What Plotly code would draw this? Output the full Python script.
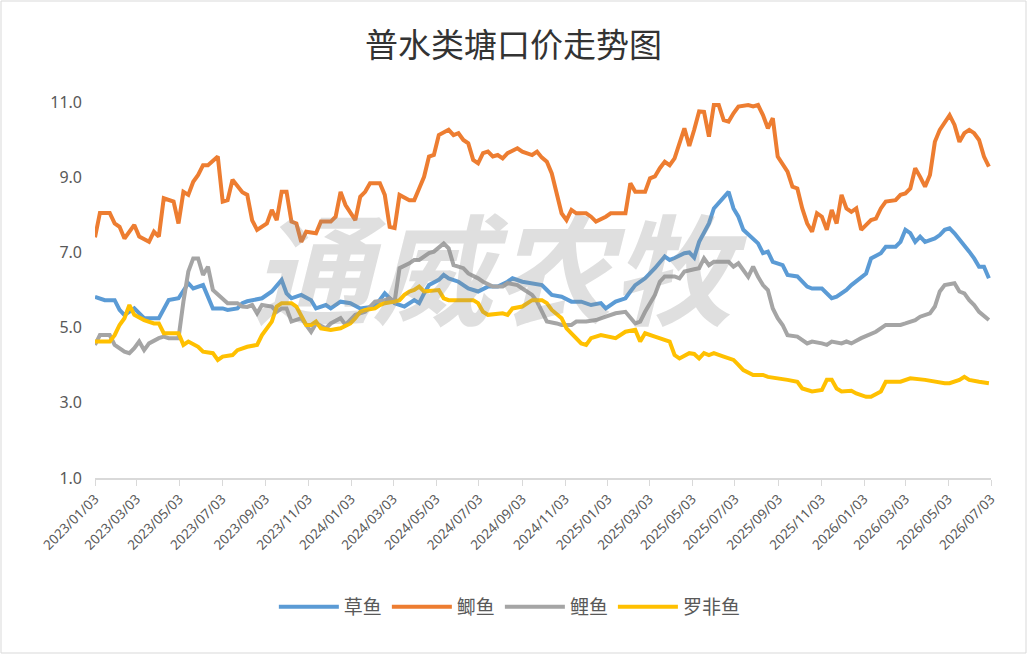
import numpy as np
import pandas as pd
import plotly.graph_objects as go

base = pd.Timestamp("2023-01-03")

# 草鱼
grass_wk = [0, 1, 2, 4, 5, 6, 8, 10, 13, 15, 17, 19, 20, 22, 24, 26, 27, 29, 30, 31, 34, 36, 38, 39, 40, 42, 44, 45, 47, 48,
            50, 52, 54, 57, 59, 61, 63, 65, 66, 67, 68, 70, 71, 72, 74, 76, 78, 80, 82, 84, 85, 87, 89, 91, 92, 93, 95, 97, 99,
            101, 103, 104, 106, 108, 109, 110, 112, 114, 116, 117, 118, 120, 121, 122, 123, 124, 125, 126, 128, 129, 130, 131,
            132, 134, 135, 136, 137, 138, 140, 141, 143, 145, 146, 148, 150, 151, 152, 153, 154, 156, 157, 158, 160, 161, 163,
            164, 165, 166, 167, 168, 169, 171, 172, 173, 174, 175, 177, 178, 179, 180, 181, 182]
grass = [5.82, 5.78, 5.73, 5.73, 5.47, 5.33, 5.51, 5.25, 5.25, 5.73, 5.78, 6.18, 6.04, 6.13, 5.51, 5.51, 5.47, 5.51, 5.65, 5.70,
         5.78, 5.96, 6.27, 5.91, 5.78, 5.87, 5.73, 5.51, 5.60, 5.51, 5.69, 5.65, 5.51, 5.56, 5.91, 5.65, 5.56, 5.73, 5.65, 5.91,
         6.13, 6.27, 6.40, 6.31, 6.22, 6.04, 5.96, 6.09, 6.09, 6.22, 6.31, 6.22, 6.18, 6.13, 6.00, 5.87, 5.82, 5.69, 5.69, 5.60,
         5.65, 5.51, 5.69, 5.78, 5.96, 6.13, 6.31, 6.58, 6.89, 6.80, 6.85, 6.98, 7.00, 6.86, 7.28, 7.55, 7.77, 8.17, 8.48, 8.61,
         8.17, 7.95, 7.60, 7.37, 7.24, 6.98, 7.02, 6.75, 6.66, 6.40, 6.36, 6.09, 6.04, 6.04, 5.78, 5.82, 5.90, 6.00, 6.13, 6.35,
         6.44, 6.84, 6.98, 7.15, 7.15, 7.28, 7.60, 7.51, 7.28, 7.42, 7.28, 7.37, 7.46, 7.60, 7.64, 7.51, 7.20, 7.02, 6.84, 6.62,
         6.62, 6.31]

# 鲫鱼
crucian_wk = [0, 1, 3, 4, 5, 6, 8, 9, 11, 12, 13, 14, 16, 17, 18, 19, 20, 21, 22, 23, 25, 26, 27, 28, 30, 31, 32, 33, 35, 36,
              37, 38, 39, 40, 41, 42, 43, 45, 46, 48, 49, 50, 51, 52, 53, 54, 55, 56, 58, 59, 60, 61, 62, 64, 65, 66, 67, 68,
              69, 70, 72, 73, 74, 75, 76, 77, 78, 79, 80, 81, 82, 83, 84, 86, 87, 89, 90, 91, 92, 93, 94, 95, 96, 97, 98, 100,
              101, 102, 104, 105, 108, 109, 110, 112, 113, 114, 115, 116, 117, 118, 120, 121, 122, 123, 124, 125, 126, 127, 128,
              129, 130, 131, 133, 134, 135, 136, 137, 138, 139, 140, 141, 142, 143, 144, 145, 146, 147, 148, 149, 150, 151, 152,
              153, 154, 155, 156, 157, 158, 159, 160, 161, 163, 164, 165, 166, 167, 168, 169, 170, 171, 172, 173, 174, 175, 176,
              177, 178, 179, 180, 181, 182]
crucian = [7.40, 8.05, 8.05, 7.77, 7.68, 7.37, 7.73, 7.42, 7.28, 7.55, 7.42, 8.44, 8.35, 7.77, 8.61, 8.53, 8.88, 9.06, 9.32, 9.32,
           9.55, 8.35, 8.39, 8.93, 8.60, 8.53, 7.85, 7.60, 7.77, 8.13, 7.86, 8.61, 8.61, 7.82, 7.77, 7.28, 7.55, 7.51, 7.82, 7.82,
           7.95, 8.61, 8.26, 8.04, 7.86, 8.48, 8.61, 8.84, 8.84, 8.53, 7.68, 7.65, 8.53, 8.39, 8.39, 8.70, 9.01, 9.55, 9.59, 10.12,
           10.26, 10.12, 10.17, 9.99, 9.90, 9.46, 9.37, 9.64, 9.68, 9.55, 9.59, 9.50, 9.64, 9.77, 9.68, 9.59, 9.68, 9.52, 9.41,
           9.10, 8.53, 8.04, 7.86, 8.13, 8.04, 8.04, 7.95, 7.82, 7.95, 8.04, 8.04, 8.84, 8.61, 8.61, 8.97, 9.02, 9.24, 9.41, 9.32,
           9.50, 10.30, 9.83, 10.26, 10.75, 10.74, 10.08, 10.92, 10.92, 10.52, 10.48, 10.70, 10.88, 10.92, 10.88, 10.92, 10.65,
           10.30, 10.57, 9.55, 9.37, 9.15, 8.75, 8.70, 8.17, 7.77, 7.55, 8.04, 7.95, 7.60, 8.13, 7.77, 8.53, 8.17, 8.08, 8.17,
           7.60, 7.73, 7.86, 7.90, 8.17, 8.35, 8.39, 8.53, 8.57, 8.70, 9.24, 9.01, 8.75, 9.06, 9.94, 10.26, 10.48, 10.65, 10.39,
           9.94, 10.17, 10.26, 10.17, 9.99, 9.55, 9.28]

# 鲤鱼
carp_wk = [0, 1, 3, 4, 6, 7, 8, 9, 10, 11, 13, 14, 15, 17, 18, 19, 20, 21, 22, 23, 24, 26, 27, 29, 30, 31, 32, 33, 34, 36, 37,
           38, 39, 40, 42, 43, 44, 45, 47, 48, 50, 51, 53, 55, 57, 59, 60, 61, 62, 64, 65, 66, 68, 69, 71, 72, 73, 75, 76, 78,
           79, 81, 83, 84, 86, 87, 88, 89, 90, 91, 92, 94, 95, 97, 98, 100, 102, 104, 106, 108, 110, 111, 112, 114, 115, 116,
           118, 119, 120, 122, 123, 124, 125, 126, 128, 129, 130, 131, 133, 134, 135, 136, 137, 138, 139, 140, 141, 143, 145,
           146, 148, 149, 150, 152, 153, 154, 156, 158, 159, 161, 164, 165, 167, 168, 170, 171, 172, 173, 175, 176, 177, 178,
           179, 180, 181, 182]
carp = [4.54, 4.80, 4.80, 4.54, 4.36, 4.32, 4.45, 4.63, 4.40, 4.58, 4.72, 4.76, 4.72, 4.72, 5.69, 6.49, 6.84, 6.84, 6.40, 6.62,
        6.00, 5.78, 5.65, 5.65, 5.56, 5.55, 5.60, 5.38, 5.60, 5.56, 5.42, 5.51, 5.51, 5.16, 5.25, 5.07, 4.89, 5.11, 4.98, 5.11,
        5.25, 5.07, 5.34, 5.42, 5.69, 5.73, 5.78, 5.69, 6.58, 6.71, 6.80, 6.80, 6.98, 7.02, 7.24, 7.11, 6.66, 6.58, 6.44, 6.31,
        6.22, 6.09, 6.09, 6.18, 6.13, 6.04, 5.96, 5.87, 5.69, 5.42, 5.16, 5.11, 5.07, 5.07, 5.16, 5.16, 5.20, 5.29, 5.38, 5.42,
        5.11, 5.16, 5.42, 5.87, 6.22, 6.36, 6.36, 6.31, 6.49, 6.55, 6.58, 6.84, 6.66, 6.75, 6.75, 6.75, 6.62, 6.71, 6.35, 6.62,
        6.35, 6.13, 6.00, 5.51, 5.25, 5.07, 4.80, 4.76, 4.58, 4.63, 4.58, 4.54, 4.63, 4.58, 4.63, 4.58, 4.72, 4.85, 4.89, 5.07,
        5.07, 5.11, 5.20, 5.29, 5.38, 5.56, 5.96, 6.13, 6.18, 5.96, 5.91, 5.73, 5.60, 5.42, 5.30, 5.20]

# 罗非鱼
tilapia_wk = [0, 3, 4, 5, 6, 7, 8, 10, 12, 13, 14, 17, 18, 19, 21, 22, 24, 25, 26, 28, 29, 31, 33, 34, 36, 37, 38, 40, 41, 42,
              43, 44, 45, 46, 48, 50, 52, 53, 54, 55, 57, 58, 59, 61, 62, 63, 64, 65, 66, 67, 69, 70, 71, 72, 74, 77, 78, 79,
              80, 82, 83, 84, 85, 87, 88, 89, 91, 92, 93, 95, 96, 98, 99, 100, 101, 103, 105, 106, 108, 110, 111, 112, 114, 116,
              117, 118, 119, 121, 122, 123, 124, 125, 126, 128, 130, 131, 132, 134, 136, 137, 140, 141, 143, 144, 146, 148, 149,
              150, 151, 152, 154, 155, 157, 158, 160, 161, 164, 166, 169, 171, 173, 174, 176, 177, 178, 180, 182]
tilapia = [4.63, 4.63, 4.80, 5.07, 5.25, 5.60, 5.34, 5.20, 5.11, 5.11, 4.85, 4.85, 4.54, 4.63, 4.49, 4.36, 4.32, 4.14, 4.23,
           4.27, 4.40, 4.49, 4.54, 4.80, 5.16, 5.56, 5.65, 5.65, 5.56, 5.34, 5.07, 5.07, 5.16, 4.98, 4.94, 4.98, 5.11, 5.25, 5.42,
           5.47, 5.51, 5.60, 5.65, 5.69, 5.73, 5.87, 5.96, 6.00, 6.09, 5.96, 6.00, 6.00, 5.78, 5.73, 5.73, 5.73, 5.65, 5.42, 5.34,
           5.38, 5.38, 5.34, 5.51, 5.56, 5.65, 5.73, 5.73, 5.65, 5.47, 5.25, 4.98, 4.72, 4.58, 4.54, 4.72, 4.80, 4.76, 4.72, 4.89,
           4.94, 4.63, 4.85, 4.76, 4.67, 4.63, 4.27, 4.18, 4.32, 4.30, 4.18, 4.32, 4.27, 4.32, 4.23, 4.14, 4.01, 3.87, 3.74, 3.74,
           3.69, 3.65, 3.61, 3.56, 3.38, 3.30, 3.34, 3.61, 3.61, 3.38, 3.30, 3.32, 3.25, 3.16, 3.16, 3.30, 3.56, 3.56, 3.65, 3.61,
           3.56, 3.52, 3.52, 3.61, 3.69, 3.61, 3.56, 3.52]

tick_dates = ["2023-01-03", "2023-03-03", "2023-05-03", "2023-07-03", "2023-09-03", "2023-11-03",
              "2024-01-03", "2024-03-03", "2024-05-03", "2024-07-03", "2024-09-03", "2024-11-03",
              "2025-01-03", "2025-03-03", "2025-05-03", "2025-07-03", "2025-09-03", "2025-11-03",
              "2026-01-03", "2026-03-03", "2026-05-03", "2026-07-03"]
tick_text = [d.replace("-", "/") for d in tick_dates]


def to_dates(wk):
    return base + pd.to_timedelta(np.array(wk) * 7, unit="D")


series = [
    ("草鱼", grass_wk, grass, "#5B9BD5"),
    ("鲫鱼", crucian_wk, crucian, "#ED7D31"),
    ("鲤鱼", carp_wk, carp, "#A5A5A5"),
    ("罗非鱼", tilapia_wk, tilapia, "#FFC000"),
]

fig = go.Figure()
for name, wk, vals, col in series:
    fig.add_trace(go.Scatter(x=to_dates(wk), y=vals, name=name, mode="lines",
                             line=dict(color=col, width=4)))

font_cjk = "Noto Sans CJK SC"

fig.update_layout(
    width=1027, height=654,
    margin=dict(l=95, r=36, t=102, b=176),
    paper_bgcolor="white", plot_bgcolor="white",
    title=dict(text="普水类塘口价走势图", x=0.5, xref="container", xanchor="center",
               y=1 - 45 / 654, yref="container", yanchor="middle",
               font=dict(family=font_cjk, size=33, color="#333333")),
    legend=dict(orientation="h", x=0.463, xanchor="center", y=-0.343, yanchor="middle",
                font=dict(family=font_cjk, size=19, color="#595959"), itemwidth=60,
                traceorder="normal"),
    showlegend=True,
    font=dict(family="Noto Sans, " + font_cjk, color="#595959"),
)

fig.update_xaxes(
    type="date", range=["2023-01-03", "2026-07-03"],
    tickvals=tick_dates, ticktext=tick_text, tickangle=-45,
    tickfont=dict(size=13.5, color="#595959"),
    showgrid=False, showline=True, linecolor="#D9D9D9", linewidth=1.5,
    ticks="outside", ticklen=6, tickcolor="#D9D9D9", zeroline=False,
)
fig.update_yaxes(
    range=[1, 11], tickvals=[1, 3, 5, 7, 9, 11], tickformat=".1f",
    tickfont=dict(size=16, color="#595959"),
    showgrid=False, showline=False, zeroline=False, ticklabelstandoff=12,
)

# watermark
fig.add_annotation(
    text="<b><i>通威农牧</i></b>", xref="paper", yref="paper", x=0.452, y=0.57,
    showarrow=False, font=dict(family=font_cjk, size=120, color="rgba(140,140,140,0.28)"),
)

# outer border
fig.add_shape(type="rect", xref="paper", yref="paper",
              x0=(1 - 95) / 896, x1=(1026 - 95) / 896, y0=(478 - 653) / 376, y1=(478 - 1) / 376,
              line=dict(color="#D9D9D9", width=1), fillcolor="rgba(0,0,0,0)", layer="below")

fig.write_html("out.html", config={"displayModeBar": False},
               post_script="document.body.style.margin='0';")
